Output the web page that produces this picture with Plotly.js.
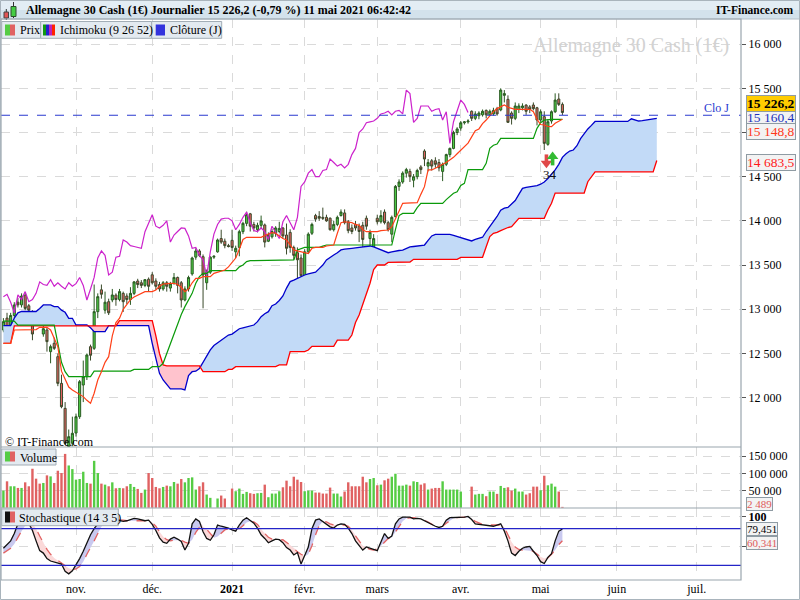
<!DOCTYPE html>
<html><head><meta charset="utf-8">
<script src="https://cdn.plot.ly/plotly-3.0.1.min.js"></script>
<style>html,body{margin:0;padding:0;background:#fff}#chart{width:800px;height:600px}</style>
</head><body><div id="chart"></div>
<script>
// ---------------- DATA ----------------
const monthTicks  = [20, 41, 63, 83, 103, 126, 148, 169, 191];
const monthLabels = ['nov.', 'déc.', '<b>2021</b>', 'févr.', 'mars', 'avr.', 'mai', 'juin', 'juil.'];

const open = [12766,12900,12800,12930,13080,13050,13160,13040,12960,12900,
 12880,12720,12766,12521,12615,12464,12162,11879,11446,11484,
 11600,11785,12143,12238,12577,12558,12973,13220,12990,13086,
 13105,13160,13110,13180,13150,13110,13180,13320,13300,13270,
 13340,13390,13320,13280,13230,13300,13240,13290,13360,13300,
 13105,13230,13400,13590,13660,13595,13300,13420,13590,13650,
 13800,13770,13720,13780,13650,13700,13878,13972,14080,13960,
 13900,13950,13954,13770,13820,13860,13880,13920,13840,13870,
 13700,13640,13580,13380,13650,13860,14060,14050,14040,14040,
 14030,13900,13960,14060,14090,13990,13920,13960,13940,13950,
 14030,13800,13700,14030,13990,14100,13980,13850,14048,14390,
 14440,14540,14560,14460,14500,14610,14790,14620,14680,14680,
 14660,14560,14640,14750,14820,15000,15050,15110,15120,15240,
 15160,15190,15200,15250,15200,15210,15270,15255,15420,15375,
 15220,15160,15260,15280,15310,15290,15311,15280,15141,15179,
 14866,15130,15235,15379,15318];
const high = [12900,12960,12960,13080,13130,13180,13190,13060,12990,12960,
 12990,12860,12790,12600,12680,12500,12260,11950,11640,11785,
 11820,12200,12420,12500,12600,13280,13180,13280,13200,13120,
 13230,13180,13230,13200,13180,13250,13320,13345,13330,13340,
 13360,13420,13350,13310,13320,13320,13310,13410,13370,13320,
 13260,13380,13595,13690,13680,13620,13450,13600,13610,13800,
 13900,13800,13740,13900,13720,13900,13990,14104,14090,13990,
 13980,14060,13970,13870,13910,13940,13990,13930,13970,13905,
 13720,13700,13620,13680,13870,13980,14080,14110,14150,14070,
 14040,14000,14060,14130,14130,14010,13960,14000,13970,13990,
 14060,13900,13850,14070,14120,14130,14000,14060,14406,14470,
 14560,14600,14590,14530,14590,14630,14810,14700,14700,14720,
 14700,14660,14760,14830,15020,15060,15130,15130,15150,15250,
 15240,15240,15260,15260,15260,15280,15290,15500,15480,15420,
 15240,15340,15330,15330,15320,15310,15340,15290,15260,15240,
 15150,15250,15443,15443,15340];
const low = [12740,12780,12790,12900,13020,13020,12990,12930,12650,12840,
 12820,12690,12521,12389,12540,12130,11880,11470,11420,11450,
 11560,11760,11950,12200,12420,12540,12900,13120,12950,12935,
 13080,13040,13090,12970,13060,13050,13160,13240,13240,13250,
 13200,13280,13220,13200,13210,13200,13200,13280,13180,13020,
 13090,13200,13380,13560,13590,13011,13220,13400,13570,13640,
 13740,13690,13700,13660,13580,13600,13850,13940,13880,13880,
 13870,13910,13700,13760,13800,13820,13860,13800,13620,13640,
 13560,13300,13330,13310,13630,13840,13990,14000,14010,13990,
 13890,13880,13940,14050,13960,13860,13850,13890,13760,13700,
 13900,13700,13660,13960,13970,13960,13880,13760,14040,14340,
 14420,14490,14440,14380,14470,14530,14620,14560,14570,14600,
 14560,14450,14620,14720,14810,14970,15020,15090,15100,15130,
 15140,15150,15180,15160,15190,15190,15190,15240,15340,15110,
 15090,15140,15220,15250,15200,15220,15250,15080,15120,14802,
 14850,15100,15220,15300,15198];
const close = [12860,12800,12930,13049,13050,13150,13010,12990,12720,12870,
 12850,12780,12634,12577,12558,12162,11898,11483,11559,11597,
 11785,12181,12238,12483,12480,12973,13143,13170,13080,12960,
 13162,13110,13200,13086,13110,13180,13310,13280,13270,13335,
 13260,13300,13260,13230,13300,13260,13290,13360,13270,13105,
 13230,13360,13580,13660,13610,13388,13420,13590,13600,13784,
 13760,13720,13710,13700,13690,13878,13972,14070,13940,13920,
 13950,14000,13760,13840,13880,13920,13915,13830,13690,13700,
 13610,13560,13380,13650,13850,13960,14020,14030,14030,14000,
 13900,13960,14040,14100,13980,13890,13880,13920,13880,13790,
 13940,13870,13800,13990,14060,13980,13900,14040,14390,14440,
 14540,14580,14500,14500,14570,14580,14700,14660,14620,14640,
 14600,14640,14750,14820,15000,15040,15110,15120,15130,15160,
 15210,15220,15240,15200,15240,15250,15210,15480,15440,15115,
 15160,15300,15300,15300,15240,15260,15270,15141,15235,14877,
 15122,15235,15367,15318,15226.2];
const volume = [50000,77000,62500,62500,57700,57700,74000,62500,113600,84700,
 70200,72200,94300,91400,72200,107800,101100,156900,123200,112600,
 81800,83700,104900,72200,70200,136700,101100,70200,67300,62500,
 74000,56700,57700,56700,62500,69300,60600,54800,43200,52900,
 101100,86600,60600,56700,60600,64400,62500,75000,70200,83700,
 74000,86600,88500,52900,62500,74100,38400,28800,null,26900,
 35500,26900,null,55800,48100,55800,40400,46100,42300,40400,
 42300,43200,67300,30700,41300,41300,48100,59600,78900,62500,
 90400,81800,75000,48100,50000,50000,44200,44200,41300,41300,
 58700,41300,41300,32600,47100,74100,62500,62500,62500,90400,
 74100,83700,86600,65400,67300,79900,84700,90400,99100,64400,
 64400,67300,64400,77000,75000,67300,71200,52900,55800,57700,
 57700,77000,52900,52900,52900,52900,47100,null,null,61500,
 38400,40400,40400,33600,47100,47100,40400,63500,57700,59600,
 50000,55800,47100,47100,38400,42300,61500,61500,51000,93300,
 65400,70200,61500,47100,2489];
// Ichimoku (9 26 52)
const tenkan = [12615,12615,12615,12766,12766,12766,12766,12766,12766,12770,
 12796,12796,12796,12766,12680,12577,12300,12200,12120,12087,
 12060,12030,12012,11970,11936,12050,12200,12294,12400,12464,
 12700,12850,12900,13000,13049,13110,13140,13160,13180,13200,
 13200,13200,13218,13260,13286,13294,13294,13294,13280,13250,
 13199,13230,13300,13350,13350,13369,13369,13369,13407,13420,
 13435,13445,13480,13530,13580,13680,13790,13814,13814,13814,
 13814,13814,13835,13852,13867,13860,13830,13800,13784,13730,
 13671,13660,13652,13640,13630,13690,13700,13700,13700,13716,
 13720,13727,13860,13980,13990,13985,13980,13960,13950,13900,
 13878,13878,13878,13878,13890,13897,13897,13935,14020,14100,
 14199,14202,14202,14202,14206,14300,14387,14576,14576,14595,
 14613,14640,14660,14690,14719,14760,14802,14840,14880,14950,
 15020,15040,15100,15141,15190,15236,15270,15292,15311,15285,
 15273,15262,15262,15262,15262,15262,15236,15149,15090,15085,
 15070,15066,15104,15123,15148.8];
const kijun = [12865,12865,12865,12865,12820,12820,12820,12820,12820,12820,
 12820,12820,12820,12820,12820,12615,12400,12294,12238,12238,
 12238,12238,12238,12238,12238,12300,12300,12300,12300,12300,
 12300,12300,12300,12300,12300,12300,12320,12320,12320,12320,
 12320,12351,12351,12351,12389,12500,12596,12720,12841,12940,
 13030,13100,13180,13294,13369,13407,13407,13437,13437,13437,
 13437,13437,13437,13437,13437,13480,13501,13539,13550,13550,
 13550,13550,13550,13550,13558,13558,13558,13558,13558,13558,
 13558,13671,13690,13701,13701,13701,13701,13701,13715,13727,
 13727,13727,13727,13727,13727,13727,13727,13727,13727,13727,
 13727,13727,13727,13727,13727,13727,13727,13727,13900,14060,
 14085,14085,14085,14085,14150,14199,14199,14199,14199,14199,
 14199,14199,14240,14274,14312,14330,14400,14425,14580,14580,
 14580,14580,14580,14651,14821,14855,14870,14934,14934,14934,
 14934,14934,14934,14934,14934,14934,14934,15047,15110,15141,
 15149,15149,15149,15149,15149];
const senkouA = [12815,12815,12815,12900,12960,12975,12975,12975,12975,12975,
 13010,13049,13049,13049,13030,13030,12990,12966,12898,12898,
 12822,12822,12822,12822,12790,12747,12747,12747,12747,12815,
 12815,12815,12815,12815,12815,12815,12815,12815,12815,12815,
 12815,12615,12450,12275,12200,12143,12100,12100,12100,12100,
 12087,12250,12294,12300,12330,12400,12480,12540,12590,12620,
 12650,12680,12709,12720,12750,12780,12790,12800,12810,12822,
 12860,12917,12950,12973,13040,13060,13100,13150,13240,13313,
 13330,13350,13370,13388,13400,13407,13420,13460,13500,13558,
 13590,13614,13640,13671,13680,13688,13690,13695,13701,13705,
 13710,13716,13705,13690,13670,13652,13640,13650,13660,13665,
 13670,13690,13705,13710,13716,13722,13727,13780,13830,13848,
 13848,13848,13848,13848,13835,13822,13810,13800,13785,13773,
 13790,13803,13815,13880,13935,14000,14050,14120,14145,14153,
 14190,14230,14300,14368,14380,14387,14392,14400,14415,14440,
 14480,14530,14576,14640,14719,14760,14790,14802,14850,14930,
 14990,15040,15080,15125,15125,15125,15125,15125,15125,15125,
 15125,15125,15125,15155,15140,15130,15135,15140,15150,15155,
 15160.4];
const senkouB = [12615,12615,12615,12812,12812,12812,12812,12812,12812,12812,
 12812,12812,12812,12812,12812,12812,12812,12812,12812,12812,
 12812,12812,12812,12812,12812,12812,12812,12812,12812,12812,
 12812,12812,12871,12871,12871,12871,12871,12871,12871,12871,
 12871,12871,12700,12500,12370,12360,12360,12360,12360,12360,
 12360,12360,12360,12360,12360,12294,12294,12294,12294,12294,
 12294,12294,12320,12320,12351,12351,12351,12351,12351,12351,
 12351,12351,12351,12351,12351,12351,12370,12370,12370,12521,
 12521,12521,12521,12521,12539,12580,12580,12580,12580,12580,
 12580,12580,12650,12650,12650,12650,12709,12850,12935,13050,
 13181,13294,13450,13501,13501,13501,13530,13530,13535,13535,
 13535,13535,13535,13565,13565,13565,13565,13565,13565,13565,
 13565,13565,13565,13565,13565,13565,13588,13588,13588,13588,
 13588,13588,13588,13708,13822,13859,13870,13890,13910,13925,
 13935,13980,14029,14029,14029,14029,14029,14029,14029,14029,
 14123,14199,14315,14315,14315,14315,14315,14315,14315,14315,
 14315,14443,14500,14555,14555,14555,14555,14555,14555,14555,
 14555,14555,14555,14555,14555,14555,14555,14555,14555,14555,
 14683.5];
// Stochastique (14 3 5)
const stochK = [48,54,60,72,88,95,96,89,77,60, 44,40,31,27,25,23,22,10,6,11,
 20,31,43,56,70,80,88,93,95,96, 96,95,94,92,93,95,97,96,94,93,
 94,87,77,65,58,56,63,66,63,59, 45,56,88,96,92,75,64,61,70,86,
 84,83,81,78,76,86,94,98,94,89, 81,70,64,57,60,63,62,57,49,45,
 37,41,22,35,50,80,94,96,92,88, 83,81,86,88,87,81,72,60,52,45,
 50,48,45,44,58,72,64,68,88,96, 99,99,99,96,97,96,93,90,86,84,
 82,84,94,98,98,98,98,99,100,95, 88,87,86,86,85,84,86,88,76,60,
 40,36,43,48,50,51,43,36,26,23, 33,39,60,76,79.451];
const stochD = [40,44,48,55,66,76,85,90,88,80, 68,57,46,38,32,28,24,19,15,13,
 14,18,26,38,48,60,72,83,90,94, 95,95,95,94,93,93,94,94,94,94,
 93,90,84,75,67,62,60,61,61,61, 58,56,62,74,82,83,79,71,65,67,
 72,78,80,80,79,80,85,90,92,91, 87,79,72,66,63,62,61,62,58,53,
 48,42,38,35,38,52,70,85,92,91, 88,86,86,86,86,84,78,68,60,52,
 49,46,45,47,52,58,64,66,74,84, 92,97,98,98,97,96,94,91,87,84,
 82,84,89,93,97,98,99,99,98,96, 92,89,87,86,86,86,86,86,82,70,
 58,50,46,45,45,44,43,38,34,31, 32,38,45,54,60.341];
const stochLevels = [20, 80];
const prevClose = 15195;           // "Clo J" dashed line
const signalX = [149.6, 151.3];    // signal arrows under May 4-5
const signalY = [14680, 14700];
const signalDir = [-1, 1];
const signalText = '34';
const signalTextY = 14520;
const priceTicks = [12000,12500,13000,13500,14000,14500,15000,15500,16000];
const hiddenPriceTicks = [15000];  // covered by the value boxes in the reference
const volTicks = [50000,100000,150000];
const chikouShift = 26;
const titleText = 'Allemagne 30 Cash (1€) Journalier';
const changeText = '(-0,79 %) 11 mai 2021 06:42:42';

// ---------------- helpers ----------------
function fr(v, dec) {
  const s = v.toFixed(dec);
  const parts = s.split('.');
  const intPart = parts[0].replace(/\B(?=(\d{3})+(?!\d))/g, ' ');
  return parts[1] ? intPart + ',' + parts[1] : intPart;
}
const FONT = 'Liberation Serif, DejaVu Serif, serif';
const PX = x => (x - 1) / 740;      // pixel -> paper x
const PY = y => (580 - y) / 561;    // pixel -> paper y
const idx = close.map((_, i) => i);
const cloudIdx = senkouA.map((_, i) => i);
const N = close.length;

const cloudTop = senkouA.map((a, i) => Math.max(a, senkouB[i]));
const stochTop = stochK.map((k, i) => Math.max(k, stochD[i]));

const chikouX = [], chikouY = [];
for (let i = chikouShift; i < N; i++) { chikouX.push(i - chikouShift); chikouY.push(close[i]); }

const volColors = close.map((c, i) => c >= open[i] ? '#55cc44' : '#e06262');

const none = {width: 0};
const traces = [
  {x: cloudIdx, y: senkouB, mode: 'lines', line: none, hoverinfo: 'skip'},
  {x: cloudIdx, y: cloudTop, mode: 'lines', line: none, fill: 'tonexty', fillcolor: '#c2daf7', hoverinfo: 'skip'},
  {x: cloudIdx, y: senkouA, mode: 'lines', line: none, hoverinfo: 'skip'},
  {x: cloudIdx, y: cloudTop, mode: 'lines', line: none, fill: 'tonexty', fillcolor: '#ffc3cd', hoverinfo: 'skip'},
  {x: cloudIdx, y: senkouA, mode: 'lines', line: {color: '#0000cc', width: 1.3}},
  {x: cloudIdx, y: senkouB, mode: 'lines', line: {color: '#ff0000', width: 1.3}},
  {x: chikouX, y: chikouY, mode: 'lines', line: {color: '#cc22cc', width: 1.2}},
  {x: idx, y: kijun, mode: 'lines', line: {color: '#0a9a0a', width: 1.2}},
  {x: idx, y: tenkan, mode: 'lines', line: {color: '#ff4018', width: 1.2}},
  {type: 'candlestick', x: idx, open: open, high: high, low: low, close: close,
   whiskerwidth: 0, hoverinfo: 'skip',
   increasing: {line: {color: '#2a5a22', width: 1}, fillcolor: '#4ccc44'},
   decreasing: {line: {color: '#3a4a2a', width: 1}, fillcolor: '#e06262'}},
  {type: 'bar', x: idx, y: volume, yaxis: 'y2', marker: {color: volColors, line: {width: 0}}, width: 0.66, hoverinfo: 'skip'},
  {x: idx, y: stochD, yaxis: 'y3', mode: 'lines', line: none, hoverinfo: 'skip'},
  {x: idx, y: stochTop, yaxis: 'y3', mode: 'lines', line: none, fill: 'tonexty', fillcolor: '#c9c9ef', hoverinfo: 'skip'},
  {x: idx, y: stochK, yaxis: 'y3', mode: 'lines', line: none, hoverinfo: 'skip'},
  {x: idx, y: stochTop, yaxis: 'y3', mode: 'lines', line: none, fill: 'tonexty', fillcolor: '#fbd9d9', hoverinfo: 'skip'},
  {x: idx, y: stochD, yaxis: 'y3', mode: 'lines', line: {color: '#e26464', width: 1.3, dash: 'dash'}},
  {x: idx, y: stochK, yaxis: 'y3', mode: 'lines', line: {color: '#111111', width: 1.3}}
];
signalX.forEach((sx, k) => {
  const d = signalDir[k];
  const c = signalY[k];
  const col = d < 0 ? '#e04848' : '#33bb33';
  traces.push({x: [sx, sx], y: [c - d * 72, c + d * 4], mode: 'lines', line: {color: col, width: 3.6}, hoverinfo: 'skip'});
  traces.push({x: [sx], y: [c + d * 28], mode: 'markers',
    marker: {symbol: d < 0 ? 'triangle-down' : 'triangle-up', size: 10, color: col}, hoverinfo: 'skip'});
});

const border = '#9aa6ae';
const tabFill = '#e3eaf0';
const tabLine = '#a2adb6';
function rectPx(x0, y0, x1, y1, fill, lineCol, lw) {
  return {type: 'rect', xref: 'paper', yref: 'paper', x0: PX(x0), x1: PX(x1), y0: PY(y1), y1: PY(y0),
          fillcolor: fill, line: {color: lineCol || fill, width: lw === undefined ? 1 : lw}, layer: 'above'};
}
function linePx(x0, y0, x1, y1, col, w) {
  return {type: 'line', xref: 'paper', yref: 'paper', x0: PX(x0), x1: PX(x1), y0: PY(y0), y1: PY(y1),
          line: {color: col, width: w || 1}, layer: 'above'};
}
const shapes = [
  rectPx(0, 0, 800, 10, '#e3edf4', '#e3edf4', 0),
  rectPx(0, 10, 800, 19, '#d3e2ec', '#d3e2ec', 0),
  linePx(0, 19, 800, 19, '#b4c0c9'),
  linePx(6.3, 9, 6.3, 20, '#333'), rectPx(4, 12, 8.5, 18, '#e05555', '#444'),
  linePx(13.5, 2, 13.5, 18, '#333'), rectPx(11, 6.5, 16, 16.5, '#44cc44', '#2c4e2c'),
  ...stochLevels.map(v => ({type: 'line', xref: 'paper', yref: 'y3', x0: 0, x1: 1, y0: v, y1: v,
      line: {color: '#2424c8', width: 1.2}, layer: 'above'})),
  {type: 'line', xref: 'paper', yref: 'y', x0: 0, x1: 1, y0: prevClose, y1: prevClose,
   line: {color: '#2a3ad0', width: 1.2, dash: 'dash'}, layer: 'above'},
  rectPx(1, 19, 741, 580, 'rgba(0,0,0,0)', border, 1.2),
  linePx(1, 447, 741, 447, border, 1.2),
  linePx(1, 508, 741, 508, border, 1.2),
  rectPx(1.7, 21.5, 40.5, 38.3, tabFill, tabLine),
  rectPx(5, 24.5, 10, 35.5, '#55cc44', '#55cc44', 0), rectPx(10, 24.5, 15, 35.5, '#e06262', '#e06262', 0),
  rectPx(40.7, 21.5, 151.7, 38.3, tabFill, tabLine),
  rectPx(43, 24.5, 46, 35.5, '#119911', '#119911', 0), rectPx(46, 24.5, 49, 35.5, '#2222cc', '#2222cc', 0),
  rectPx(49, 24.5, 52, 35.5, '#bb22bb', '#bb22bb', 0), rectPx(52, 24.5, 55, 35.5, '#ff2200', '#ff2200', 0),
  rectPx(151.7, 21.5, 221.7, 38.3, tabFill, tabLine),
  rectPx(155.7, 24.5, 165, 35.5, '#3333dd', '#3333dd', 0),
  rectPx(1.7, 449, 56, 465, tabFill, tabLine),
  rectPx(5, 451.5, 10, 461.5, '#55cc44', '#55cc44', 0), rectPx(10, 451.5, 15, 461.5, '#e06262', '#e06262', 0),
  rectPx(1.7, 509, 118.3, 525.7, tabFill, tabLine),
  rectPx(5, 511.5, 10, 522.5, '#111111', '#111111', 0), rectPx(10, 511.5, 15, 522.5, '#e06262', '#e06262', 0),
  rectPx(0.5, 0.5, 799.5, 599.5, 'rgba(0,0,0,0)', '#a9b4bc', 1)
];

function txt(text, x, y, opts) {
  return Object.assign({xref: 'paper', yref: 'paper', x: PX(x), y: PY(y), text: text, showarrow: false,
    xanchor: 'left', yanchor: 'middle', font: {family: FONT, size: 12, color: '#000'}}, opts || {});
}
function box(text, y, color, size, bg, bold, pad) {
  return txt(bold ? '<b>' + text + '</b>' : text, 745.5, y, {
    font: {family: FONT, size: size, color: color}, bgcolor: bg || '#f3f3f3', bordercolor: '#8f9ba3',
    borderwidth: 1, borderpad: pad === undefined ? 1 : pad, align: 'left'});
}
const annotations = [
  txt('<b>' + titleText + ' ' + fr(close[N - 1], 1) + ' ' + changeText + '</b>', 24, 10, {font: {family: FONT, size: 12, color: '#000'}}),
  txt('<b>IT-Finance.com</b>', 796, 10, {xanchor: 'right', font: {family: FONT, size: 11.5, color: '#000'}}),
  txt('Prix', 18, 30),
  txt('Ichimoku (9 26 52)', 58, 30),
  txt('Clôture (J)', 168, 30),
  txt('Volume', 18, 457.5),
  txt('Stochastique (14 3 5)', 17, 517.5),
  txt('Allemagne 30 Cash (1€)', 731, 45, {xanchor: 'right', font: {family: FONT, size: 20, color: '#d2d2d2'}}),
  txt('© IT-Finance.com', 2.5, 442, {font: {family: FONT, size: 12, color: '#000'}}),
  txt('Clo J', 731, 108, {xanchor: 'right', font: {family: FONT, size: 12, color: '#2a3ad0'}}),
  {xref: 'x', yref: 'y', x: (signalX[0] + signalX[1]) / 2, y: signalTextY, text: signalText, showarrow: false,
   font: {family: FONT, size: 13, color: '#111'}},
  box(fr(senkouA[senkouA.length - 1], 1), 117.5, '#2233bb', 13.5, null, false, 0),
  box(fr(tenkan[N - 1], 1), 131.5, '#ff3a1a', 13.5, null, false, 0),
  box(fr(close[N - 1], 1), 103, '#000', 13.5, '#ffcc00', true, 0),
  box(fr(senkouB[senkouB.length - 1], 1), 162, '#ff1a1a', 13.5, null, false, 0),
  box(fr(volume[N - 1], 0), 503.5, '#e05a5a', 11, null, false, 0),
  box(fr(stochK[N - 1], 3), 529, '#000', 11, null, false, 0),
  box(fr(stochD[N - 1], 3), 543, '#e05a5a', 11, null, false, 0)
];

const axisFont = {family: FONT, size: 12, color: '#000'};
const grid = {showgrid: true, gridcolor: '#dadada', griddash: 'dash', gridwidth: 1, zeroline: false, fixedrange: true};
const layout = {
  width: 800, height: 600, margin: {l: 1, r: 59, t: 19, b: 20, pad: 0},
  paper_bgcolor: '#ffffff', plot_bgcolor: '#ffffff', showlegend: false, hovermode: false, boxgap: 0.18,
  xaxis: Object.assign({}, grid, {range: [-0.661, 203.2], anchor: 'y3', tickvals: monthTicks, ticktext: monthLabels,
    ticks: '', tickfont: axisFont, showline: false, rangeslider: {visible: false}}),
  yaxis: Object.assign({}, grid, {domain: [0.23708, 1], range: [11442, 16284], side: 'right', anchor: 'x',
    tickvals: priceTicks, ticktext: priceTicks.map(v => hiddenPriceTicks.includes(v) ? '' : fr(v, 0)),
    ticks: 'outside', ticklen: 4, tickcolor: '#555', tickfont: axisFont, showline: false}),
  yaxis2: Object.assign({}, grid, {domain: [0.12834, 0.23708], range: [-800, 177000], side: 'right', anchor: 'x',
    tickvals: volTicks, ticktext: volTicks.map(v => fr(v, 0)), ticks: 'outside', ticklen: 4, tickcolor: '#555',
    tickfont: axisFont, showline: false}),
  yaxis3: Object.assign({}, grid, {domain: [0, 0.12834], range: [-4.1, 113.9], side: 'right', anchor: 'x',
    tickvals: [50, 100], ticktext: ['', '<b>100</b>'], ticks: 'outside', ticklen: 4, tickcolor: '#555',
    tickfont: axisFont, showline: false}),
  shapes: shapes,
  annotations: annotations
};
Plotly.newPlot('chart', traces, layout, {staticPlot: true, displayModeBar: false});
</script>
</body></html>
